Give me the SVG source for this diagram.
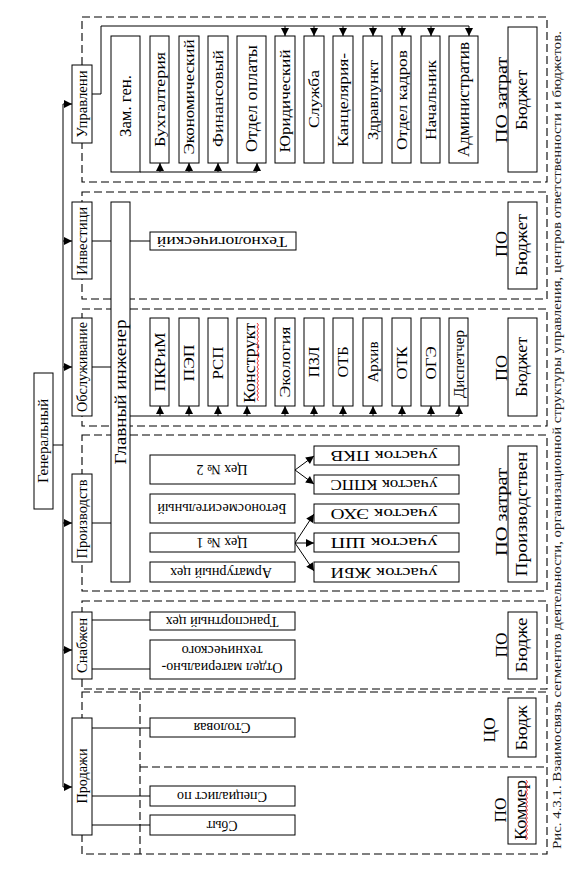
<svg xmlns="http://www.w3.org/2000/svg" width="571" height="885" viewBox="0 0 571 885">
<style>
.b{fill:#fff;stroke:#000;stroke-width:1}
.d{fill:none;stroke:#000;stroke-width:1.1;stroke-dasharray:8 4}
.l{fill:none;stroke:#000;stroke-width:1}
.a{fill:none;stroke:#000;stroke-width:1;marker-end:url(#ah)}
.sq{fill:none;stroke:#e00;stroke-width:0.8}
text{font-family:"Liberation Serif","Times New Roman",serif;fill:#000;text-anchor:middle;dominant-baseline:central}
.f15{font-size:15px}
.f14{font-size:14px}
.f17{font-size:17px}
.cap{font-size:12.5px;fill:#1c1c1c}
</style>
<defs>
<marker id="ah" viewBox="0 0 10 10" refX="10" refY="5" markerWidth="9" markerHeight="8" markerUnits="userSpaceOnUse" orient="auto"><path d="M0,0 L10,5 L0,10 z" fill="#000"/></marker>
</defs>
<rect width="571" height="885" fill="#fff"/>

<g id="panels">
<rect class="d" x="82" y="17" width="465" height="165"/>
<rect class="d" x="82" y="192" width="465" height="107"/>
<rect class="d" x="82" y="309" width="465" height="117"/>
<rect class="d" x="82" y="435" width="465" height="156"/>
<rect class="d" x="82" y="601" width="465" height="88"/>
<rect class="d" x="82" y="692" width="465" height="162"/>
<path class="d" d="M140,692 V854 M140,767 H547"/>
</g>

<g id="connectors">
<path class="l" d="M63,104 V787 M53,445 H63"/>
<path class="a" d="M63,104 H72"/>
<path class="a" d="M63,241 H72"/>
<path class="a" d="M63,367 H72"/>
<path class="a" d="M63,523 H72"/>
<path class="a" d="M63,650 H72"/>
<path class="a" d="M63,787 H72"/>
<path class="l" d="M92,94 H101 V26 H469"/>
<path class="a" d="M285,26 V36"/>
<path class="a" d="M314,26 V36"/>
<path class="a" d="M343,26 V36"/>
<path class="a" d="M373,26 V36"/>
<path class="a" d="M402,26 V36"/>
<path class="a" d="M431,26 V36"/>
<path class="a" d="M469,26 V36"/>
<path class="l" d="M140,172 H257"/>
<path class="a" d="M160,172 V163"/>
<path class="a" d="M189,172 V163"/>
<path class="a" d="M218,172 V163"/>
<path class="a" d="M257,172 V163"/>
<path class="l" d="M92,241 H111 M130,241 H150 M92,367 H111 M92,523 H111"/>
<path class="l" d="M130,416 H459"/>
<path class="a" d="M160,416 V406"/>
<path class="a" d="M189,416 V406"/>
<path class="a" d="M218,416 V406"/>
<path class="a" d="M247,416 V406"/>
<path class="a" d="M285,416 V406"/>
<path class="a" d="M314,416 V406"/>
<path class="a" d="M343,416 V406"/>
<path class="a" d="M373,416 V406"/>
<path class="a" d="M402,416 V406"/>
<path class="a" d="M431,416 V406"/>
<path class="a" d="M459,416 V406"/>
<path class="a" d="M295,470 L314,456"/>
<path class="a" d="M295,470 L314,484"/>
<path class="a" d="M295,543 L314,514"/>
<path class="a" d="M295,543 H314"/>
<path class="a" d="M295,543 L314,571"/>
<path class="l" d="M92,620 H150 M92,669 H150 M92,728 H150 M92,796 H150 M92,825 H150"/>
</g>

<g id="n-gen"><rect class="b" x="34" y="373" width="19" height="136"/><text class="f14" transform="translate(43.5,441) rotate(-90)" textLength="84" lengthAdjust="spacingAndGlyphs">Генеральный</text></g>

<g id="n-upr"><rect class="b" x="72" y="65" width="20" height="78"/><text class="f14" transform="translate(82,104) rotate(-90)" textLength="67" lengthAdjust="spacingAndGlyphs">Управлени</text></g>
<g id="n-inv"><rect class="b" x="72" y="202" width="20" height="77"/><text class="f14" transform="translate(82,241) rotate(-90)" textLength="68" lengthAdjust="spacingAndGlyphs">Инвестици</text></g>
<g id="n-obs"><rect class="b" x="72" y="318" width="20" height="98"/><text class="f14" transform="translate(82,367) rotate(-90)" textLength="90" lengthAdjust="spacingAndGlyphs">Обслуживание</text></g>
<g id="n-pro"><rect class="b" x="72" y="474" width="20" height="88"/><text class="f14" transform="translate(82,519) rotate(-90)" textLength="79" lengthAdjust="spacingAndGlyphs">Производств</text></g>
<g id="n-sna"><rect class="b" x="72" y="612" width="20" height="67"/><text class="f14" transform="translate(82,645.5) rotate(-90)" textLength="55" lengthAdjust="spacingAndGlyphs">Снабжен</text></g>
<g id="n-prd"><rect class="b" x="72" y="718" width="20" height="117"/><text class="f14" transform="translate(82,776) rotate(-90)" textLength="55" lengthAdjust="spacingAndGlyphs">Продажи</text></g>

<g id="n-zam"><rect class="b" x="111" y="36" width="29" height="136"/><text class="f17" transform="translate(125,106) rotate(-90)" textLength="62" lengthAdjust="spacingAndGlyphs">Зам. ген.</text></g>
<g id="n-buh"><rect class="b" x="150" y="36" width="19" height="127"/><text class="f15" transform="translate(159.5,99.5) rotate(-90)" textLength="95" lengthAdjust="spacingAndGlyphs">Бухгалтерия</text></g>
<g id="n-eko"><rect class="b" x="179" y="36" width="20" height="127"/><text class="f15" transform="translate(189,97) rotate(-90)" textLength="115" lengthAdjust="spacingAndGlyphs">Экономический</text></g>
<g id="n-fin"><rect class="b" x="208" y="36" width="20" height="127"/><text class="f15" transform="translate(218,98.5) rotate(-90)" textLength="97" lengthAdjust="spacingAndGlyphs">Финансовый</text></g>
<g id="n-oop"><rect class="b" x="237" y="36" width="29" height="127"/><text class="f17" transform="translate(251.5,98.5) rotate(-90)" textLength="107" lengthAdjust="spacingAndGlyphs">Отдел оплаты</text></g>
<g id="n-yur"><rect class="b" x="275" y="36" width="20" height="127"/><text class="f15" transform="translate(285,101) rotate(-90)" textLength="103" lengthAdjust="spacingAndGlyphs">Юридический</text></g>
<g id="n-slu"><rect class="b" x="304" y="36" width="20" height="127"/><text class="f15" transform="translate(314,99) rotate(-90)" textLength="58" lengthAdjust="spacingAndGlyphs">Служба</text></g>
<g id="n-kan"><rect class="b" x="333" y="36" width="20" height="127"/><text class="f15" transform="translate(343,100) rotate(-90)" textLength="94" lengthAdjust="spacingAndGlyphs">Канцелярия-</text></g>
<g id="n-zdr"><rect class="b" x="363" y="36" width="19" height="127"/><text class="f15" transform="translate(372.5,100) rotate(-90)" textLength="80" lengthAdjust="spacingAndGlyphs">Здравпункт</text></g>
<g id="n-kad"><rect class="b" x="392" y="36" width="19" height="127"/><text class="f15" transform="translate(401.5,100) rotate(-90)" textLength="100" lengthAdjust="spacingAndGlyphs">Отдел кадров</text></g>
<g id="n-nach"><rect class="b" x="421" y="36" width="19" height="127"/><text class="f15" transform="translate(430.5,100) rotate(-90)" textLength="80" lengthAdjust="spacingAndGlyphs">Начальник</text></g>
<g id="n-adm"><rect class="b" x="449" y="36" width="29" height="127"/><text class="f17" transform="translate(463.5,99.5) rotate(-90)" textLength="115" lengthAdjust="spacingAndGlyphs">Административ</text></g>
<g id="n-bud1"><rect class="b" x="508" y="27" width="29" height="145"/><text class="f17" transform="translate(501,100) rotate(-90)" textLength="86" lengthAdjust="spacingAndGlyphs">ПО затрат</text><text class="f17" transform="translate(521,100) rotate(-90)" textLength="60" lengthAdjust="spacingAndGlyphs">Бюджет</text></g>

<g id="n-gi"><rect class="b" x="111" y="202" width="19" height="380"/><text class="f17" transform="translate(120.5,392) rotate(-90)" textLength="145" lengthAdjust="spacingAndGlyphs">Главный инженер</text></g>
<g id="n-teh"><rect class="b" x="150" y="232" width="146" height="18"/><text class="f14" transform="translate(222,241) rotate(180)" textLength="130" lengthAdjust="spacingAndGlyphs">Технологический</text></g>
<g id="n-bud2"><rect class="b" x="508" y="202" width="29" height="87"/><text class="f17" transform="translate(501,244) rotate(-90)" textLength="26" lengthAdjust="spacingAndGlyphs">ПО</text><text class="f17" transform="translate(521,245) rotate(-90)" textLength="62" lengthAdjust="spacingAndGlyphs">Бюджет</text></g>

<g id="n-pkrm"><rect class="b" x="150" y="318" width="19" height="88"/><text class="f15" transform="translate(159.5,362) rotate(-90)" textLength="59" lengthAdjust="spacingAndGlyphs">ПКРиМ</text></g>
<g id="n-pep"><rect class="b" x="179" y="318" width="20" height="88"/><text class="f15" transform="translate(189,363) rotate(-90)" textLength="37" lengthAdjust="spacingAndGlyphs">ПЭП</text></g>
<g id="n-rsp"><rect class="b" x="208" y="318" width="20" height="88"/><text class="f15" transform="translate(218,363) rotate(-90)" textLength="33" lengthAdjust="spacingAndGlyphs">РСП</text></g>
<g id="n-kon"><rect class="b" x="237" y="318" width="29" height="88"/><text class="f17" transform="translate(249,363) rotate(-90)" textLength="80" lengthAdjust="spacingAndGlyphs">Конструкт</text><path class="sq" d="M257,323 l1.5,2 l-1.5,2 l1.5,2 l-1.5,2 l1.5,2 l-1.5,2 l1.5,2 l-1.5,2 l1.5,2 l-1.5,2 l1.5,2 l-1.5,2 l1.5,2 l-1.5,2 l1.5,2 l-1.5,2 l1.5,2 l-1.5,2 l1.5,2 l-1.5,2 l1.5,2 l-1.5,2 l1.5,2 l-1.5,2 l1.5,2 l-1.5,2 l1.5,2 l-1.5,2 l1.5,2 l-1.5,2 l1.5,2 l-1.5,2 l1.5,2 l-1.5,2 l1.5,2 l-1.5,2 l1.5,2 l-1.5,2 l1.5,2"/></g>
<g id="n-eco"><rect class="b" x="275" y="318" width="20" height="88"/><text class="f15" transform="translate(285,362) rotate(-90)" textLength="71" lengthAdjust="spacingAndGlyphs">Экология</text></g>
<g id="n-pzl"><rect class="b" x="304" y="318" width="20" height="88"/><text class="f15" transform="translate(314,362) rotate(-90)" textLength="31" lengthAdjust="spacingAndGlyphs">ПЗЛ</text></g>
<g id="n-otb"><rect class="b" x="333" y="318" width="20" height="88"/><text class="f15" transform="translate(343,362) rotate(-90)" textLength="31" lengthAdjust="spacingAndGlyphs">ОТБ</text></g>
<g id="n-arh"><rect class="b" x="363" y="318" width="19" height="88"/><text class="f15" transform="translate(372.5,362) rotate(-90)" textLength="41" lengthAdjust="spacingAndGlyphs">Архив</text></g>
<g id="n-otk"><rect class="b" x="392" y="318" width="19" height="88"/><text class="f15" transform="translate(401.5,363) rotate(-90)" textLength="33" lengthAdjust="spacingAndGlyphs">ОТК</text></g>
<g id="n-oge"><rect class="b" x="421" y="318" width="19" height="88"/><text class="f15" transform="translate(430.5,363) rotate(-90)" textLength="33" lengthAdjust="spacingAndGlyphs">ОГЭ</text></g>
<g id="n-dis"><rect class="b" x="449" y="318" width="19" height="88"/><text class="f15" transform="translate(458.5,364) rotate(-90)" textLength="68" lengthAdjust="spacingAndGlyphs">Диспетчер</text></g>
<g id="n-bud3"><rect class="b" x="508" y="318" width="29" height="98"/><text class="f17" transform="translate(501,368) rotate(-90)" textLength="26" lengthAdjust="spacingAndGlyphs">ПО</text><text class="f17" transform="translate(521,367) rotate(-90)" textLength="60" lengthAdjust="spacingAndGlyphs">Бюджет</text></g>

<g id="n-c2"><rect class="b" x="150" y="455" width="145" height="29"/><text class="f14" transform="translate(222,469) rotate(180)" textLength="51" lengthAdjust="spacingAndGlyphs">Цех № 2</text></g>
<g id="n-bet"><rect class="b" x="150" y="494" width="145" height="29"/><text class="f14" transform="translate(222,508) rotate(180)" textLength="129" lengthAdjust="spacingAndGlyphs">Бетоносмесительный</text></g>
<g id="n-c1"><rect class="b" x="150" y="533" width="145" height="19"/><text class="f14" transform="translate(222,542.5) rotate(180)" textLength="51" lengthAdjust="spacingAndGlyphs">Цех № 1</text></g>
<g id="n-arm"><rect class="b" x="150" y="562" width="145" height="20"/><text class="f14" transform="translate(221,572) rotate(180)" textLength="102" lengthAdjust="spacingAndGlyphs">Арматурный цех</text></g>
<g id="n-u1"><rect class="b" x="314" y="446" width="145" height="19"/><text class="f14" transform="translate(384,455.5) rotate(180)" textLength="107" lengthAdjust="spacingAndGlyphs">участок ПКВ</text></g>
<g id="n-u2"><rect class="b" x="314" y="475" width="145" height="19"/><text class="f14" transform="translate(384,484.5) rotate(180)" textLength="107" lengthAdjust="spacingAndGlyphs">участок КППС</text></g>
<g id="n-u3"><rect class="b" x="314" y="504" width="145" height="19"/><text class="f14" transform="translate(384,513.5) rotate(180)" textLength="107" lengthAdjust="spacingAndGlyphs">участок ЭХО</text></g>
<g id="n-u4"><rect class="b" x="314" y="533" width="145" height="19"/><text class="f14" transform="translate(384,542.5) rotate(180)" textLength="107" lengthAdjust="spacingAndGlyphs">участок ШП</text></g>
<g id="n-u5"><rect class="b" x="314" y="562" width="145" height="20"/><text class="f14" transform="translate(384,572) rotate(180)" textLength="107" lengthAdjust="spacingAndGlyphs">участок ЖБИ</text></g>
<g id="n-bud4"><rect class="b" x="508" y="446" width="29" height="136"/><text class="f17" transform="translate(501,512) rotate(-90)" textLength="88" lengthAdjust="spacingAndGlyphs">ПО затрат</text><text class="f17" transform="translate(521,514) rotate(-90)" textLength="125" lengthAdjust="spacingAndGlyphs">Производствен</text></g>

<g id="n-tr"><rect class="b" x="150" y="612" width="145" height="18"/><text class="f14" transform="translate(222,621) rotate(180)" textLength="113" lengthAdjust="spacingAndGlyphs">Транспортный цех</text></g>
<g id="n-omt"><rect class="b" x="150" y="640" width="145" height="39"/><text class="f14" transform="translate(222,667) rotate(180)" textLength="121" lengthAdjust="spacingAndGlyphs">Отдел материально-</text><text class="f14" transform="translate(222,650) rotate(180)" textLength="81" lengthAdjust="spacingAndGlyphs">технического</text></g>
<g id="n-bud5"><rect class="b" x="508" y="612" width="29" height="67"/><text class="f17" transform="translate(501,645) rotate(-90)" textLength="25" lengthAdjust="spacingAndGlyphs">ПО</text><text class="f17" transform="translate(521,645) rotate(-90)" textLength="55" lengthAdjust="spacingAndGlyphs">Бюдже</text></g>

<g id="n-sto"><rect class="b" x="150" y="718" width="145" height="19"/><text class="f14" transform="translate(222,727.5) rotate(180)" textLength="57" lengthAdjust="spacingAndGlyphs">Столовая</text></g>
<g id="n-spe"><rect class="b" x="150" y="786" width="145" height="20"/><text class="f14" transform="translate(222,796) rotate(180)" textLength="90" lengthAdjust="spacingAndGlyphs">Специалист по</text></g>
<g id="n-sby"><rect class="b" x="150" y="815" width="145" height="20"/><text class="f14" transform="translate(222,825) rotate(180)" textLength="31" lengthAdjust="spacingAndGlyphs">Сбыт</text></g>
<g id="n-bud6"><rect class="b" x="508" y="698" width="28" height="59"/><text class="f17" transform="translate(489,730) rotate(-90)" textLength="25" lengthAdjust="spacingAndGlyphs">ЦО</text><text class="f17" transform="translate(521,728) rotate(-90)" textLength="45" lengthAdjust="spacingAndGlyphs">Бюдж</text></g>
<g id="n-bud7"><rect class="b" x="508" y="777" width="28" height="67"/><text class="f17" transform="translate(500,810) rotate(-90)" textLength="25" lengthAdjust="spacingAndGlyphs">ПО</text><text class="f17" transform="translate(520,810) rotate(-90)" textLength="60" lengthAdjust="spacingAndGlyphs">Коммер</text><path class="sq" d="M526,780 l1.5,2 l-1.5,2 l1.5,2 l-1.5,2 l1.5,2 l-1.5,2 l1.5,2 l-1.5,2 l1.5,2 l-1.5,2 l1.5,2 l-1.5,2 l1.5,2 l-1.5,2 l1.5,2 l-1.5,2 l1.5,2 l-1.5,2 l1.5,2 l-1.5,2 l1.5,2 l-1.5,2 l1.5,2 l-1.5,2 l1.5,2 l-1.5,2 l1.5,2 l-1.5,2 l1.5,2 l-1.5,2"/></g>

<text class="cap" transform="translate(557,440) rotate(-90)" textLength="818" lengthAdjust="spacingAndGlyphs">Рис. 4.3.1. Взаимосвязь сегментов деятельности, организационной структуры управления, центров ответственности и бюджетов.</text>
</svg>
